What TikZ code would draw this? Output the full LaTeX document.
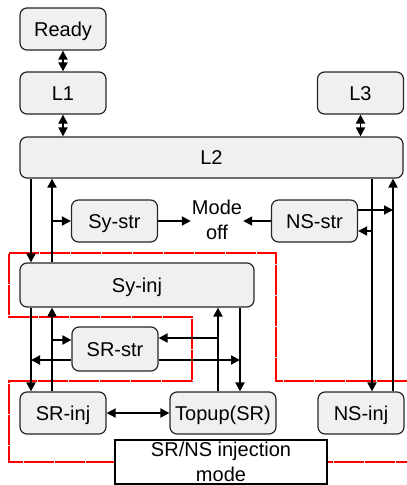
\documentclass[tikz,border=0pt]{standalone}
\usepackage{fontspec}
\setmainfont{Liberation Sans}
\usetikzlibrary{arrows.meta,positioning,calc}

\begin{document}
\begin{tikzpicture}[x=1pt, y=-1pt, font=\fontsize{20}{25}\selectfont, >={Triangle[length=9pt,width=9pt]},
  statebox/.style={rectangle, draw=black!85, line width=1.2pt, rounded corners=7pt, fill=black!6, minimum width=86pt, minimum height=42pt, inner sep=2pt, text height=14.3pt, text depth=0pt},
  modebox/.style={rectangle, draw, line width=1.2pt, fill=white, minimum width=212pt, minimum height=44pt, align=center, inner sep=1pt},
  link/.style={->, line width=1.8pt},
  twoway/.style={<->, line width=1.8pt},
  modeline/.style={draw=red, line width=1.4pt, dash pattern=on 30pt off 1pt}
  ]

\useasboundingbox (0,0) rectangle (407,485);

% Injection mode region
\draw[modeline] (407,381) -- (276,381) -- (276,253) -- (9,253) -- (9,317) -- (192,317) -- (192,381) -- (9,381) -- (9,462) -- (407,462);

% Upper states
\node[statebox] (ready) at (63,29) {Ready};
\node[statebox] (l1) at (63,93) {L1};
\node[statebox] (l3) at (360.5,93) {L3};
\node[statebox, minimum width=383pt, minimum height=41pt] (l2) at (211.5,157.5) {L2};

% Stretcher states
\node[statebox] (systr) at (114.5,221) {Sy-str};
\node[statebox] (nsstr) at (314.5,221) {NS-str};
\node[align=center, inner sep=1pt] (modeoff) at (217,220) {Mode\\off};

% Injection states
\node[statebox, minimum width=234pt, minimum height=44pt] (syinj) at (137,285) {Sy-inj};
\node[statebox, minimum height=44pt] (srstr) at (115,349) {SR-str};
\node[statebox] (srinj) at (63,413) {SR-inj};
\node[statebox, minimum width=106pt] (topup) at (223,413) {Topup(SR)};
\node[statebox] (nsinj) at (361,413) {NS-inj};
\node[modebox] (injmode) at (221,462) {SR/NS injection\\mode};

% Columns for the vertical links
\coordinate (xa) at (31,0);
\coordinate (xb) at (52,0);
\coordinate (xc) at (218,0);
\coordinate (xd) at (240,0);
\coordinate (xe) at (372,0);
\coordinate (xf) at (393,0);

% Top chain
\draw[twoway] (ready) -- (l1);
\draw[twoway] (l1.south) -- (l1.south |- l2.north);
\draw[twoway] (l3.south) -- (l3.south |- l2.north);

% Left side
\draw[link] (l2.south -| xa) -- (syinj.north -| xa);
\draw[link] (syinj.north -| xb) -- (l2.south -| xb);
\draw[link] (systr.west -| xb) -- (systr.west);
\draw[link] (systr.east) -- (systr.east -| modeoff.west);
\draw[link] (syinj.south -| xa) -- (srinj.north -| xa);
\draw[link] (srinj.north -| xb) -- (syinj.south -| xb);
\draw[link] ([yshift=9pt]srstr.west -| xb) -- ([yshift=9pt]srstr.west);
\draw[link] ([yshift=-11pt]srstr.west) -- ([yshift=-11pt]srstr.west -| xa);

% Topup links
\draw[link] (topup.north -| xc) -- (syinj.south -| xc);
\draw[link] (syinj.south -| xd) -- (topup.north -| xd);
\draw[link] ([yshift=11pt]srstr.east -| xc) -- ([yshift=11pt]srstr.east);
\draw[link] ([yshift=-11pt]srstr.east) -- ([yshift=-11pt]srstr.east -| xd);
\draw[twoway] (srinj) -- (topup);

% Right side
\draw[link] (nsstr.west) -- (nsstr.west -| modeoff.east);
\draw[link] (l2.south -| xe) -- (nsinj.north -| xe);
\draw[link] (nsinj.north -| xf) -- (l2.south -| xf);
\draw[link] ([yshift=11pt]nsstr.east) -- ([yshift=11pt]nsstr.east -| xf);
\draw[link] ([yshift=-10pt]nsstr.east -| xe) -- ([yshift=-10pt]nsstr.east);

\end{tikzpicture}
\end{document}
